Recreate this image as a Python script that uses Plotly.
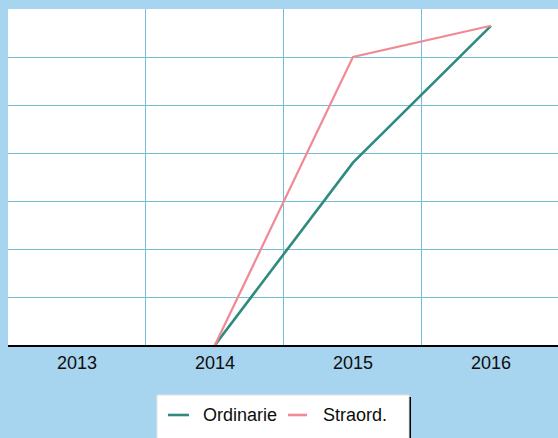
import plotly.graph_objects as go

# Annual values per category
years = ["2013", "2014", "2015", "2016"]
ordinarie = [None, 0, 3.8, 6.65]
straord = [None, 0, 6.0, 6.65]

series_names = ["Ordinarie", "Straord."]
series_colors = ["#2e8b7d", "#f08a94"]

BG = "#a7d4ee"
GRID = "#72bedb"
FONT = "Arial, Liberation Sans, sans-serif"
TXT = "#0d0d0d"

W, H = 558, 438
L, T, B = 8, 9, 93
PW, PH = W - L, H - T - B


def px_x(px):
    """Pixel column -> paper x."""
    return (px - L) / PW


def px_y(py):
    """Pixel row -> paper y."""
    return (H - B - py) / PH


fig = go.Figure()
for name, vals, color, width in [
    (series_names[0], ordinarie, series_colors[0], 2.6),
    (series_names[1], straord, series_colors[1], 2.2),
]:
    fig.add_trace(go.Scatter(
        x=years, y=vals, name=name, mode="lines",
        line=dict(color=color, width=width),
        connectgaps=False, showlegend=False,
    ))

# Legend box with drop shadow, drawn below the plot
shapes = [
    dict(type="rect", xref="paper", yref="paper", layer="above",
         x0=px_x(159), x1=px_x(411), y0=px_y(397), y1=px_y(445),
         fillcolor="black", line=dict(width=0)),
    dict(type="rect", xref="paper", yref="paper", layer="above",
         x0=px_x(157), x1=px_x(409), y0=px_y(395), y1=px_y(445),
         fillcolor="white", line=dict(color="#e4e4e4", width=1)),
]
annotations = []
entries = [(168, 189, 201), (288, 307, 321)]
for (s0, s1, tx), name, color in zip(entries, series_names, series_colors):
    shapes.append(dict(type="line", xref="paper", yref="paper", layer="above",
                       x0=px_x(s0), x1=px_x(s1), y0=px_y(415), y1=px_y(415),
                       line=dict(color=color, width=2.6)))
    annotations.append(dict(xref="paper", yref="paper", x=px_x(tx), y=px_y(415),
                            xanchor="left", yanchor="middle", showarrow=False,
                            text=name, font=dict(size=18, family=FONT, color=TXT)))

fig.update_layout(
    template="none",
    width=W, height=H,
    margin=dict(l=L, r=0, t=T, b=B),
    paper_bgcolor=BG,
    plot_bgcolor="white",
    font=dict(family=FONT, color=TXT),
    showlegend=False,
    shapes=shapes,
    annotations=annotations,
)
fig.update_xaxes(
    type="category",
    range=[-0.5, 3.486],
    tickson="boundaries",
    showgrid=True, gridcolor=GRID, gridwidth=1,
    showline=True, linecolor="black", linewidth=2,
    ticks="", ticklen=0,
    tickfont=dict(size=18, family=FONT, color=TXT),
    fixedrange=True,
)
fig.update_yaxes(
    range=[0, 7], dtick=1,
    showgrid=True, gridcolor=GRID, gridwidth=1,
    showticklabels=False, zeroline=False, showline=False,
    fixedrange=True,
)

fig.write_html("out.html")
